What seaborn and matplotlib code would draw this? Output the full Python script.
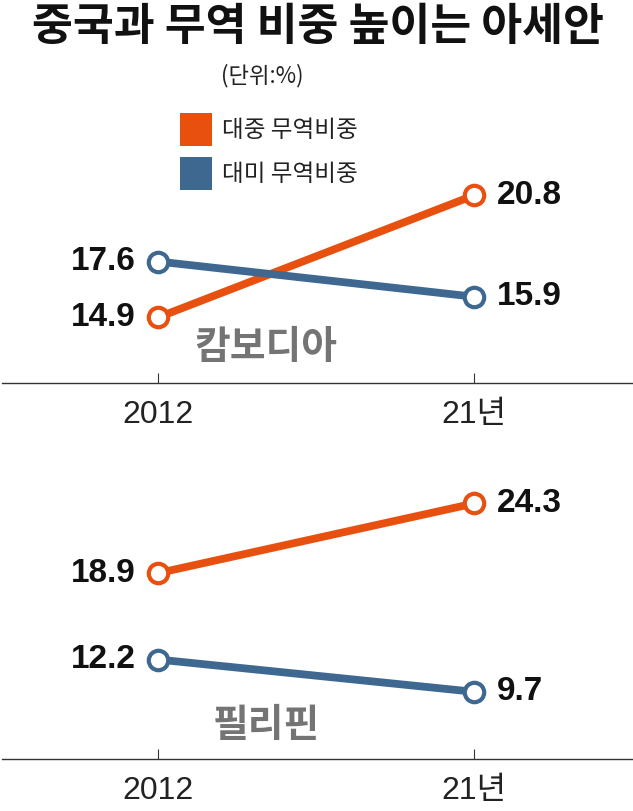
import matplotlib
matplotlib.use("Agg")
import matplotlib.pyplot as plt
import seaborn as sns
import pandas as pd
from matplotlib.patches import Patch

# ---- data ----
years = ["2012", "21년"]
series_names = ["대중 무역비중", "대미 무역비중"]
cambodia_china = [14.9, 20.8]
cambodia_us = [17.6, 15.9]
philippines_china = [18.9, 24.3]
philippines_us = [12.2, 9.7]
countries = ["캄보디아", "필리핀"]

ORANGE = "#E8500F"
BLUE = "#3F6890"
GRAY = "#747474"
KR = ["Noto Sans CJK KR", "DejaVu Sans"]
NUM = ["Liberation Sans Narrow", "Liberation Sans", "Noto Sans CJK KR", "DejaVu Sans"]

sns.set_theme(style="white")
plt.rcParams["font.family"] = KR

fig = plt.figure(figsize=(6.33, 8.11), dpi=100)
W, H = 633, 811

def axes_px(left, top, right, bottom):
    return fig.add_axes([left / W, 1 - bottom / H, (right - left) / W, (bottom - top) / H])

ax1 = axes_px(2, 180, 633, 383)
ax2 = axes_px(2, 440, 633, 759)

panels = [
    (ax1, cambodia_china, cambodia_us, countries[0], (11.73, 21.54)),
    (ax2, philippines_china, philippines_us, countries[1], (4.49, 29.22)),
]

for ax, china, us, cname, ylim in panels:
    df = pd.DataFrame({
        "x": [0, 1, 0, 1],
        "value": list(china) + list(us),
        "series": [series_names[0]] * 2 + [series_names[1]] * 2,
    })
    sns.lineplot(data=df, x="x", y="value", hue="series",
                 palette=[ORANGE, BLUE], linewidth=5.6, marker="o",
                 markersize=14, markerfacecolor="white", markeredgewidth=3.0,
                 legend=False, ax=ax)
    for line in ax.lines:
        line.set_markeredgecolor(line.get_color())
        line.set_clip_on(False)
    ax.set_xlim(-0.494, 1.503)
    ax.set_ylim(*ylim)
    ax.set_xticks([0, 1])
    ax.set_xticklabels(years, fontfamily=NUM, fontsize=23, color="#222222")
    ax.set_yticks([])
    ax.set_xlabel("")
    ax.set_ylabel("")
    for s in ["top", "left", "right"]:
        ax.spines[s].set_visible(False)
    ax.spines["bottom"].set_color("#333333")
    ax.spines["bottom"].set_linewidth(1.0)
    ax.tick_params(axis="x", direction="in", length=7, width=0.8,
                   color="#333333", pad=12, bottom=True)
    ax.set_facecolor("none")
    # value labels
    for vals in (china, us):
        ax.annotate(f"{vals[0]:.1f}", (0, vals[0]), xytext=(-22, 0),
                    textcoords="offset pixels", ha="right", va="center",
                    fontfamily=NUM, fontweight="bold", fontsize=24, color="#111111")
        ax.annotate(f"{vals[1]:.1f}", (1, vals[1]), xytext=(23, 0),
                    textcoords="offset pixels", ha="left", va="center",
                    fontfamily=NUM, fontweight="bold", fontsize=24, color="#111111")

fig.text(266 / W, 1 - 348 / H, countries[0], ha="center", va="center",
         fontsize=28, fontweight="bold", color=GRAY)
fig.text(266 / W, 1 - 725 / H, countries[1], ha="center", va="center",
         fontsize=28, fontweight="bold", color=GRAY)

fig.text(0.503, 1 - 27 / H, "중국과 무역 비중 높이는 아세안", ha="center", va="center",
         fontsize=32, fontweight="bold", color="#111111")
fig.text(262 / W, 1 - 76 / H, "(단위:%)", ha="center", va="center",
         fontsize=16, color="#222222")

handles = [Patch(facecolor=ORANGE, edgecolor="none"), Patch(facecolor=BLUE, edgecolor="none")]
fig.legend(handles, series_names, loc="upper left",
           bbox_to_anchor=(180 / W, 1 - 113 / H), frameon=False,
           fontsize=17, handlelength=1.35, handleheight=1.75,
           handletextpad=0.45, labelspacing=0.5, borderpad=0, borderaxespad=0,
           labelcolor="#222222")

fig.savefig("out.png", dpi=100)
